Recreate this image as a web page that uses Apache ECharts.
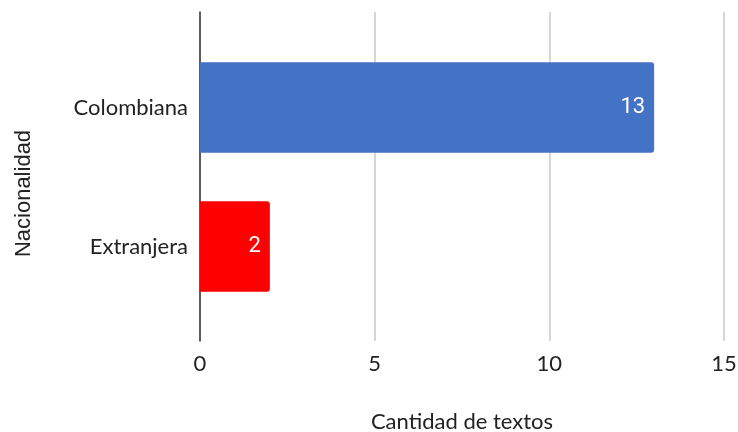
<!DOCTYPE html>
<html>
<head>
<meta charset="utf-8">
<script src="https://cdn.jsdelivr.net/npm/echarts@6/dist/echarts.min.js"></script>
<style>html,body{margin:0;padding:0;background:#fff}#c{width:738px;height:432px}</style>
</head>
<body>
<div id="c"></div>
<script>
const categories = ['Colombiana', 'Extranjera'];
const values = [13, 2];
const barColors = ['#4472C4', '#FF0000'];
const xTicks = [0, 5, 10, 15];

const chart = echarts.init(document.getElementById('c'), null, {renderer: 'canvas'});
chart.setOption({
  animation: false,
  grid: [
    {left: 200, right: 14, top: 12, bottom: 91, containLabel: false, outerBoundsMode: 'none'},
    {left: 200, right: 14, top: 38, bottom: 116, containLabel: false, outerBoundsMode: 'none'}
  ],
  xAxis: [{
    gridIndex: 0, type: 'value', min: 0, max: 15, interval: 5,
    name: 'Cantidad de textos', nameLocation: 'middle', nameGap: 70,
    nameTextStyle: {fontFamily: 'Lato', fontSize: 22, color: '#222'},
    axisLine: {show: false}, axisTick: {show: false},
    axisLabel: {fontFamily: 'Lato', fontSize: 22, color: '#222', margin: 12,
      formatter: v => xTicks.includes(v) ? String(v) : ''},
    splitLine: {show: true, lineStyle: {color: '#c8c8c8', width: 1.5}}
  }, {
    gridIndex: 1, type: 'value', min: 0, max: 15, show: false,
    splitLine: {show: false}
  }],
  yAxis: [{
    gridIndex: 0, type: 'value', min: 0, max: 1,
    name: 'Nacionalidad', nameLocation: 'middle', nameGap: 165, nameRotate: 90,
    nameTextStyle: {fontFamily: 'Liberation Sans', fontSize: 22, color: '#222', padding: [0, 34, 0, 0]},
    axisLine: {show: true, lineStyle: {color: '#333', width: 1.5}},
    axisTick: {show: false}, axisLabel: {show: false}, splitLine: {show: false}
  }, {
    gridIndex: 1, type: 'category', data: categories, inverse: true,
    axisLine: {show: false}, axisTick: {show: false},
    axisLabel: {fontFamily: 'Lato', fontSize: 22, color: '#222', margin: 12}
  }],
  series: [{
    type: 'bar', xAxisIndex: 1, yAxisIndex: 1,
    data: values.map((v, i) => ({value: v, itemStyle: {color: barColors[i]}})),
    barCategoryGap: '35%',
    itemStyle: {borderRadius: [0, 3, 3, 0]},
    label: {show: true, position: 'insideRight', distance: 9,
      fontFamily: 'Roboto', fontSize: 22, color: '#fff'}
  }]
});
</script>
</body>
</html>
